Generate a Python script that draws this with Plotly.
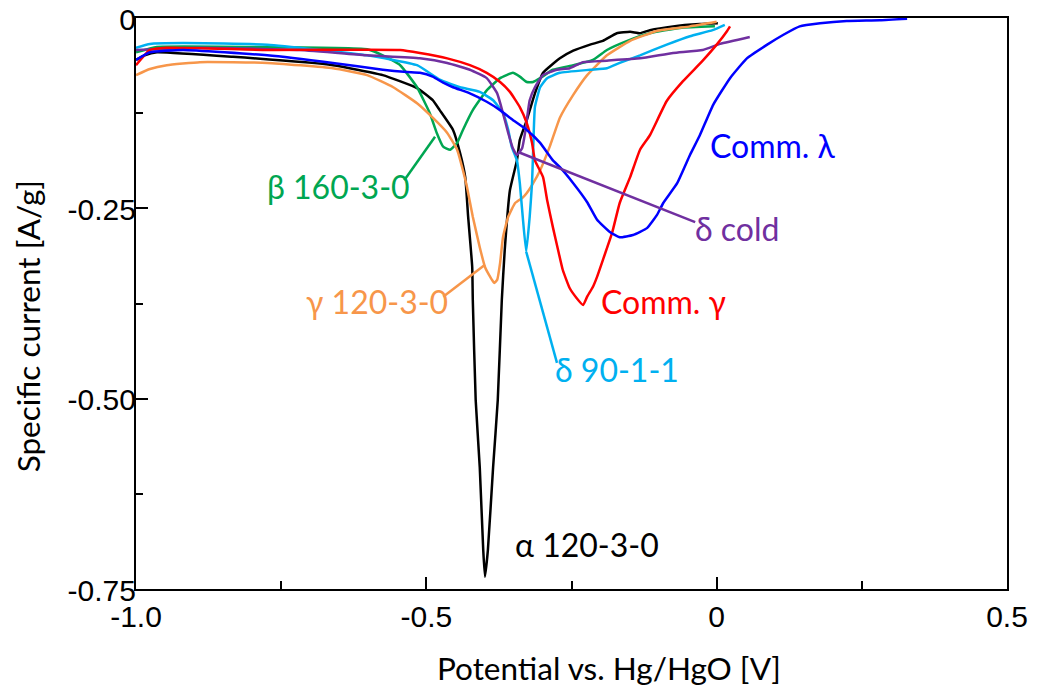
import plotly.graph_objects as go

# ---- data (potential V vs Hg/HgO, specific current A/g) ----
alpha_v = [-1.0, -0.985, -0.964, -0.833, -0.661, -0.575, -0.516, -0.489, -0.477, -0.454, -0.442, -0.433,
           -0.428, -0.421, -0.420, -0.415, -0.408, -0.402, -0.399, -0.394, -0.385, -0.377, -0.370, -0.365,
           -0.356, -0.344, -0.339, -0.327, -0.313, -0.299, -0.270, -0.247, -0.218, -0.196, -0.172, -0.149,
           -0.132, -0.115, -0.075, -0.029, 0.002]
alpha_i = [-0.055, -0.049, -0.045, -0.051, -0.062, -0.075, -0.092, -0.108, -0.121, -0.147, -0.177, -0.209,
           -0.261, -0.327, -0.370, -0.502, -0.590, -0.699, -0.734, -0.699, -0.590, -0.502, -0.370, -0.305,
           -0.226, -0.187, -0.160, -0.134, -0.099, -0.072, -0.053, -0.043, -0.035, -0.030, -0.020, -0.018,
           -0.020, -0.016, -0.011, -0.008, -0.007]

beta_v = [-1.0, -0.964, -0.804, -0.602, -0.575, -0.545, -0.516, -0.494, -0.482, -0.471, -0.459, -0.447,
          -0.437, -0.420, -0.396, -0.373, -0.351, -0.339, -0.327, -0.316, -0.304, -0.282, -0.247, -0.213,
          -0.189, -0.154, -0.115, -0.063, -0.003]
beta_i = [-0.045, -0.038, -0.038, -0.041, -0.049, -0.062, -0.091, -0.125, -0.151, -0.169, -0.173, -0.164,
          -0.147, -0.121, -0.095, -0.079, -0.072, -0.077, -0.084, -0.084, -0.079, -0.068, -0.062, -0.055,
          -0.042, -0.030, -0.020, -0.013, -0.011]

gamma_v = [-1.0, -0.976, -0.947, -0.890, -0.774, -0.661, -0.602, -0.557, -0.516, -0.489, -0.464, -0.447,
           -0.437, -0.430, -0.420, -0.408, -0.399, -0.390, -0.383, -0.378, -0.373, -0.368, -0.359, -0.347,
           -0.334, -0.327, -0.316, -0.304, -0.287, -0.270, -0.247, -0.223, -0.189, -0.149, -0.103, -0.046, 0.000]
gamma_i = [-0.075, -0.067, -0.062, -0.058, -0.059, -0.066, -0.075, -0.091, -0.112, -0.131, -0.151, -0.173,
           -0.200, -0.222, -0.261, -0.301, -0.327, -0.340, -0.348, -0.344, -0.322, -0.288, -0.261, -0.243,
           -0.236, -0.230, -0.217, -0.200, -0.168, -0.131, -0.101, -0.075, -0.049, -0.030, -0.017, -0.011, -0.005]

delta90_v = [-1.0, -0.976, -0.919, -0.774, -0.602, -0.516, -0.477, -0.442, -0.408, -0.385, -0.368, -0.359,
             -0.353, -0.344, -0.339, -0.334, -0.328, -0.322, -0.318, -0.316, -0.313, -0.304, -0.292, -0.270,
             -0.218, -0.189, -0.167, -0.132, -0.086, -0.046, -0.007, 0.014]
delta90_i = [-0.039, -0.034, -0.033, -0.035, -0.049, -0.062, -0.081, -0.091, -0.097, -0.108, -0.125, -0.147,
             -0.169, -0.187, -0.217, -0.261, -0.307, -0.261, -0.217, -0.173, -0.117, -0.091, -0.079, -0.072,
             -0.068, -0.066, -0.059, -0.049, -0.035, -0.024, -0.016, -0.009]

deltacold_v = [-1.0, -0.890, -0.718, -0.602, -0.511, -0.464, -0.425, -0.396, -0.378, -0.368, -0.359, -0.351,
               -0.344, -0.335, -0.330, -0.322, -0.313, -0.299, -0.275, -0.253, -0.230, -0.189, -0.132, -0.075,
               -0.024, 0.006, 0.057]
deltacold_i = [-0.042, -0.039, -0.042, -0.049, -0.053, -0.059, -0.068, -0.079, -0.099, -0.125, -0.151, -0.171,
               -0.180, -0.171, -0.151, -0.108, -0.091, -0.075, -0.068, -0.066, -0.058, -0.056, -0.053, -0.046,
               -0.042, -0.034, -0.025]

commg_v = [-1.0, -0.976, -0.947, -0.774, -0.545, -0.511, -0.464, -0.425, -0.396, -0.373, -0.356, -0.339,
           -0.327, -0.318, -0.313, -0.299, -0.292, -0.282, -0.273, -0.265, -0.253, -0.241, -0.230, -0.223,
           -0.213, -0.206, -0.196, -0.180, -0.167, -0.149, -0.132, -0.115, -0.086, -0.058, -0.024, 0.000,
           0.018, 0.023]
commg_i = [-0.062, -0.042, -0.039, -0.042, -0.042, -0.046, -0.053, -0.062, -0.072, -0.084, -0.097, -0.117,
           -0.138, -0.164, -0.187, -0.209, -0.239, -0.275, -0.305, -0.331, -0.355, -0.368, -0.377, -0.366,
           -0.353, -0.340, -0.318, -0.282, -0.243, -0.209, -0.173, -0.154, -0.109, -0.083, -0.056, -0.035,
           -0.017, -0.011]

comml_v = [-1.0, -0.976, -0.919, -0.774, -0.661, -0.575, -0.533, -0.511, -0.489, -0.471, -0.454, -0.425,
           -0.396, -0.373, -0.351, -0.327, -0.304, -0.282, -0.270, -0.247, -0.223, -0.206, -0.184, -0.167,
           -0.144, -0.120, -0.103, -0.092, -0.068, -0.046, -0.029, -0.006, 0.023, 0.052, 0.087, 0.115,
           0.143, 0.178, 0.224, 0.281, 0.328]
comml_i = [-0.055, -0.045, -0.042, -0.049, -0.059, -0.068, -0.071, -0.072, -0.077, -0.085, -0.091, -0.099,
           -0.110, -0.121, -0.134, -0.147, -0.164, -0.187, -0.196, -0.217, -0.242, -0.265, -0.281, -0.288,
           -0.285, -0.276, -0.259, -0.243, -0.217, -0.180, -0.154, -0.114, -0.079, -0.053, -0.035, -0.022,
           -0.011, -0.007, -0.004, -0.003, -0.001]

x_tickvals = [-1.0, -0.5, 0.0, 0.5]
x_ticktext = ["-1.0", "-0.5", "0", "0.5"]
x_minor = [-0.75, -0.25, 0.25]
y_tickvals = [0.0, -0.25, -0.5, -0.75]
y_ticktext = ["0", "-0.25", "-0.50", "-0.75"]
y_minor = [-0.125, -0.375, -0.625]

series = [
    (alpha_v, alpha_i, "#000000"),
    (beta_v, beta_i, "#00a651"),
    (gamma_v, gamma_i, "#f7964a"),
    (delta90_v, delta90_i, "#00b0f0"),
    (deltacold_v, deltacold_i, "#7030a0"),
    (commg_v, commg_i, "#ff0000"),
    (comml_v, comml_i, "#0000ff"),
]

fig = go.Figure()
for xv, yv, col in series:
    fig.add_trace(go.Scatter(x=xv, y=yv, mode="lines", line=dict(color=col, width=2.5, shape="spline", smoothing=0.4),
                             showlegend=False, hoverinfo="skip"))

# labels: (text, x, y, color)
labels = [
    ("Comm. λ", 0.097, -0.167, "#0000ff"),
    ("δ cold", 0.035, -0.276, "#7030a0"),
    ("Comm. γ", -0.092, -0.373, "#ff0000"),
    ("δ 90-1-1", -0.172, -0.462, "#00b0f0"),
    ("γ 120-3-0", -0.585, -0.373, "#f7964a"),
    ("β 160-3-0", -0.652, -0.221, "#00a651"),
    ("α 120-3-0", -0.223, -0.692, "#000000"),
]
for t, xx, yy, col in labels:
    fig.add_annotation(x=xx, y=yy, text=t, showarrow=False, xanchor="center", yanchor="middle",
                       font=dict(family="Lato", size=32, color=col))

# connector lines: (x0, y0, x1, y1, color)
connectors = [
    (-0.538, -0.213, -0.485, -0.156, "#00a651"),
    (-0.471, -0.366, -0.399, -0.324, "#f7964a"),
    (-0.275, -0.453, -0.328, -0.307, "#00b0f0"),
    (-0.342, -0.176, -0.037, -0.268, "#7030a0"),
]
for x0, y0, x1, y1, col in connectors:
    fig.add_shape(type="line", x0=x0, y0=y0, x1=x1, y1=y1, line=dict(color=col, width=2.5))

fig.add_annotation(text="Potential vs. Hg/HgO [V]", xref="paper", yref="paper", x=0.543, y=-0.138,
                   xanchor="center", yanchor="middle",
                   showarrow=False, font=dict(family="Lato", size=31.5, color="#000000"))
fig.add_annotation(text="Specific current [A/g]", xref="paper", yref="paper", x=-0.124, y=0.46,
                   xanchor="center", yanchor="middle",
                   textangle=-90, showarrow=False, font=dict(family="Lato", size=31.5, color="#000000"))

fig.update_xaxes(range=[-1.0, 0.5], tickmode="array", tickvals=x_tickvals, ticktext=x_ticktext,
                 ticks="inside", ticklen=12, tickwidth=2, tickcolor="black", automargin=False,
                 ticklabeloverflow="allow",
                 minor=dict(tickmode="array", tickvals=x_minor, ticks="inside", ticklen=8, tickwidth=2, tickcolor="black", showgrid=False),
                 showline=True, linecolor="black", linewidth=2, mirror=True, showgrid=False, zeroline=False,
                 tickfont=dict(family="Liberation Sans, Arial", size=30, color="black"))
fig.update_yaxes(range=[-0.75, 0.0], tickmode="array", tickvals=y_tickvals, ticktext=y_ticktext,
                 ticks="inside", ticklen=12, tickwidth=2, tickcolor="black", automargin=False,
                 ticklabelstandoff=-8, ticklabeloverflow="allow", ticklabelshift=1,
                 minor=dict(tickmode="array", tickvals=y_minor, ticks="inside", ticklen=7, tickwidth=2, tickcolor="black", showgrid=False),
                 showline=True, linecolor="black", linewidth=2, mirror=True, showgrid=False, zeroline=False,
                 tickfont=dict(family="Liberation Sans, Arial", size=30, color="black"))

fig.update_layout(width=1038, height=690, margin=dict(l=136, r=31, t=18, b=101),
                  plot_bgcolor="white", paper_bgcolor="white")

fig.write_html("out.html", config={"displayModeBar": False},
               post_script="document.body.style.margin='0';document.body.style.overflow='hidden';")
